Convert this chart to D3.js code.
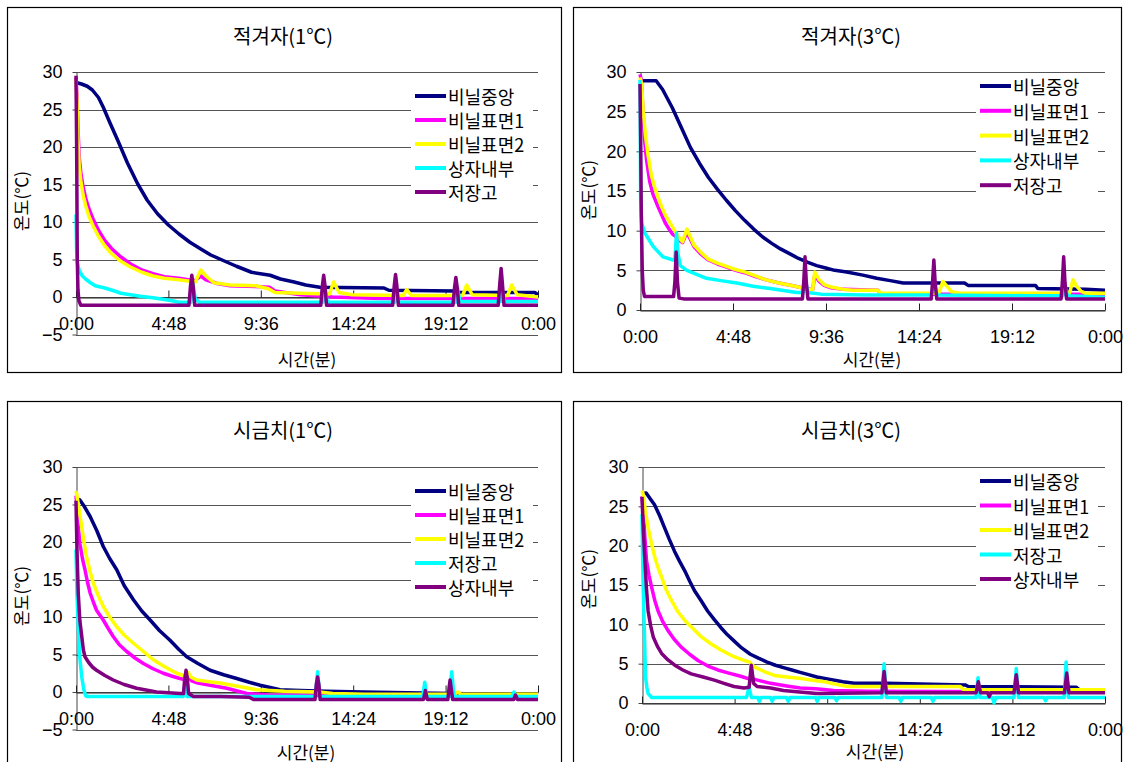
<!DOCTYPE html>
<html>
<head>
<meta charset="utf-8">
<script src="https://cdn.jsdelivr.net/npm/d3@7"></script>
<style>
body { margin: 0; background: #fff; }
</style>
</head>
<body>
<script>
// x axis is minutes over one day
var timeTicks = [0, 288, 576, 864, 1152, 1440];
var timeLabels = ["0:00", "4:48", "9:36", "14:24", "19:12", "0:00"];
var namesMustard = ["비닐중앙", "비닐표면1", "비닐표면2", "상자내부", "저장고"];
var namesSpinach = ["비닐중앙", "비닐표면1", "비닐표면2", "저장고", "상자내부"];
var colors = ["#000080", "#ff00ff", "#ffff00", "#00ffff", "#800080"];

// 적겨자(1℃)  [minute, ℃]
var m1Center = [[0,28.6],[17,28.4],[35,28.1],[51,27.6],[70,26.6],[85,25.3],[105,23.3],[130,20.9],[160,17.9],[192,15.1],[222,12.9],[254,11.1],[288,9.6],[321,8.4],[355,7.3],[389,6.4],[420,5.6],[457,4.9],[500,4.1],[547,3.3],[605,2.9],[637,2.4],[680,2.0],[716,1.6],[760,1.3],[960,1.2],[975,0.9],[1180,0.8],[1195,0.6],[1430,0.6],[1440,0.3]];
var m1Surf1 = [[0,29.2],[3,27],[6,22.7],[10,18.6],[15,16.6],[22,14.7],[30,13.2],[40,11.8],[53,10.4],[70,8.9],[90,7.5],[110,6.5],[138,5.4],[170,4.4],[205,3.6],[240,3.1],[275,2.7],[320,2.5],[350,2.3],[372,2.2],[389,2.8],[405,2.3],[440,1.8],[480,1.5],[560,1.4],[603,1.3],[620,0.8],[700,0.3],[800,0.0],[950,-0.2],[1440,-0.2]];
var m1Surf2 = [[0,29],[3,26],[6,21],[10,17.5],[15,15.5],[22,13.6],[30,12.2],[40,10.8],[53,9.5],[70,8.1],[90,6.8],[110,5.8],[138,4.8],[170,4.0],[205,3.3],[240,2.8],[275,2.5],[320,2.3],[355,2.1],[372,2.0],[389,3.6],[405,2.8],[430,1.9],[480,1.6],[560,1.5],[600,1.1],[620,0.6],[700,0.5],[790,0.4],[803,2.0],[820,0.6],[860,0.3],[1020,0.2],[1031,1.0],[1045,0.2],[1205,0.2],[1218,1.6],[1235,0.3],[1345,0.2],[1358,1.6],[1375,0.3],[1440,0.0]];
var m1Box = [[0,11],[2,6],[4,4.6],[10,3.5],[20,2.8],[30,2.4],[45,1.9],[60,1.5],[90,1.2],[120,0.8],[140,0.5],[170,0.3],[200,0.1],[240,-0.1],[270,-0.3],[300,-0.5],[320,-0.7],[358,-0.7],[364,1.8],[372,-0.3],[385,-0.7],[770,-0.7],[776,0.9],[784,-0.7],[994,-0.7],[999,0.6],[1006,-0.7],[1184,-0.7],[1189,1.2],[1197,-0.6],[1324,-0.6],[1329,0.8],[1336,-0.6],[1440,-0.6]];
var m1Store = [[0,29.5],[2,20],[4,5],[6,1],[9,-0.5],[15,-1.1],[352,-1.1],[357,1.5],[361,2.9],[365,1.5],[370,-1.1],[763,-1.1],[768,1.5],[772,2.9],[776,1.5],[781,-1.1],[987,-1.1],[992,1.5],[996,3.0],[1000,1.5],[1005,-1.1],[1175,-1.1],[1180,1.3],[1184,2.6],[1188,1.3],[1193,-1.1],[1316,-1.1],[1321,1.8],[1325,3.8],[1329,1.8],[1334,-1.1],[1440,-1.1]];

// 적겨자(3℃)
var m3Center = [[0,28.9],[20,28.9],[50,28.9],[70,27.8],[100,25.5],[128,23.0],[156,20.5],[184,18.5],[212,16.7],[240,15.2],[268,13.8],[296,12.5],[324,11.3],[352,10.2],[380,9.2],[408,8.4],[435,7.7],[463,7.1],[491,6.5],[520,6.0],[547,5.6],[575,5.3],[603,5.0],[640,4.8],[690,4.4],[733,4.0],[775,3.7],[815,3.4],[1005,3.4],[1016,3.1],[1225,3.1],[1232,2.7],[1380,2.6],[1440,2.5]];
var m3Surf1 = [[0,29.7],[4,29],[8,26],[14,21.5],[20,19],[30,16.2],[40,14.6],[56,13.0],[67,12.0],[78,11.0],[90,10.2],[100,9.6],[112,9.2],[125,8.7],[132,8.5],[145,9.8],[155,9.0],[167,8.0],[190,7.0],[212,6.3],[240,5.8],[268,5.4],[296,5.0],[324,4.7],[358,4.2],[391,3.8],[430,3.4],[469,3.1],[500,2.8],[535,2.6],[541,4.4],[555,3.6],[570,3.1],[592,2.8],[630,2.6],[737,2.5],[745,2.0],[1440,2.0]];
var m3Surf2 = [[0,29.3],[5,28.5],[10,25],[17,22],[25,19.5],[35,17],[45,15.5],[56,14.2],[67,13],[78,12],[90,11.2],[100,10.5],[112,9.7],[125,8.9],[132,8.6],[145,10.2],[155,9.3],[167,8.2],[190,7.2],[212,6.4],[240,5.9],[268,5.5],[296,5.1],[324,4.8],[358,4.3],[391,3.8],[430,3.4],[469,3.1],[500,2.8],[525,2.6],[535,2.6],[541,4.8],[555,3.8],[570,3.2],[592,2.9],[630,2.6],[659,2.5],[737,2.5],[745,2.1],[925,2.1],[938,3.6],[950,3.0],[965,2.3],[990,2.1],[1330,2.1],[1341,3.8],[1352,3.0],[1365,2.4],[1380,2.1],[1440,2.1]];
var m3Box = [[0,29],[1,22],[2,14],[5,11],[15,9.7],[41,8.0],[71,6.7],[103,6.3],[108,6.4],[113,9.7],[118,7.0],[125,5.6],[145,5.0],[175,4.5],[206,4.0],[250,3.7],[300,3.4],[350,3.0],[403,2.7],[485,2.2],[505,2.2],[512,3.8],[520,2.2],[560,2.0],[700,1.9],[902,1.9],[910,3.5],[920,1.9],[1200,1.8],[1310,1.8],[1316,3.0],[1324,1.8],[1440,1.6]];
var m3Store = [[0,28.5],[2,22],[4,12],[7,5],[10,2.5],[14,1.7],[104,1.7],[108,3.5],[112,7.3],[116,3.5],[121,1.5],[135,1.4],[503,1.4],[507,3.5],[511,6.7],[515,3.5],[520,1.4],[902,1.4],[906,3.5],[910,6.3],[914,3.5],[919,1.4],[1304,1.4],[1308,3.5],[1312,6.7],[1316,3.5],[1321,1.4],[1440,1.4]];

// 시금치(1℃)
var s1Center = [[0,25.8],[12,25.6],[25,24.8],[44,23.4],[65,21.5],[85,19.4],[105,17.8],[127,16.3],[150,14.2],[179,12.3],[205,10.8],[231,9.6],[260,8.2],[293,6.9],[320,5.7],[345,4.7],[380,3.8],[418,2.9],[460,2.3],[501,1.8],[540,1.3],[574,0.9],[605,0.6],[636,0.3],[700,0.2],[780,0.1],[895,0.0],[1440,-0.4]];
var s1Surf1 = [[0,26.2],[2,25.2],[6,22.5],[12,19.8],[20,17.8],[28,16.3],[36,14.6],[44,13.2],[54,12.0],[64,10.9],[85,9.6],[100,8.5],[116,7.4],[135,6.3],[158,5.4],[185,4.5],[210,3.8],[240,3.1],[272,2.5],[300,2.1],[324,1.8],[345,1.6],[352,2.0],[360,1.5],[380,1.2],[418,0.9],[470,0.5],[532,-0.2],[600,-0.4],[800,-0.5],[1440,-0.6]];
var s1Surf2 = [[0,26.8],[2,26.5],[10,24.2],[18,22],[25,20],[33,18.0],[43,16.2],[54,14.5],[70,12.8],[85,11.4],[105,10.0],[127,8.7],[150,7.6],[179,6.5],[210,5.4],[241,4.3],[275,3.4],[314,2.5],[340,2.1],[350,2.6],[358,2.0],[376,1.6],[410,1.4],[449,1.2],[500,0.8],[563,0.3],[650,0.1],[760,0.0],[800,-0.2],[900,-0.3],[1180,-0.3],[1190,0.0],[1200,-0.3],[1440,-0.3]];
var s1Store = [[0,19],[3,13],[7,8.7],[12,4.5],[18,2.0],[24,0.4],[30,-0.5],[36,-0.6],[334,-0.6],[340,1.2],[346,-0.6],[746,-0.6],[753,2.7],[760,-0.6],[1081,-0.6],[1087,1.3],[1093,-0.6],[1164,-0.6],[1171,2.7],[1178,-0.6],[1359,-0.6],[1365,0.0],[1371,-0.6],[1440,-0.6]];
var s1Box = [[0,25.5],[3,19],[7,13.2],[12,9.5],[18,7.4],[23,5.6],[28,4.7],[40,3.9],[52,3.3],[64,2.9],[90,2.2],[116,1.6],[150,1.0],[189,0.5],[251,0.0],[324,-0.2],[335,-0.2],[339,1.8],[343,2.9],[347,1.8],[351,-0.2],[366,-0.6],[450,-0.6],[540,-0.7],[553,-1.0],[745,-1.0],[749,1.0],[753,2.0],[757,1.0],[761,-1.0],[1083,-1.0],[1089,0.2],[1095,-1.0],[1159,-1.0],[1163,0.6],[1166,1.6],[1169,0.6],[1174,-1.0],[1364,-1.0],[1370,-0.4],[1376,-1.0],[1440,-1.0]];

// 시금치(3℃)
var s3Center = [[0,26.6],[13,26.7],[25,26.0],[39,25.2],[55,23.8],[70,22.3],[85,20.8],[101,19.3],[117,18.0],[133,16.8],[148,15.5],[163,14.3],[184,13.0],[204,11.7],[225,10.6],[245,9.6],[265,8.7],[286,7.9],[310,7.0],[337,6.2],[362,5.7],[389,5.2],[415,4.8],[440,4.5],[466,4.2],[492,3.9],[518,3.6],[544,3.3],[585,3.0],[625,2.7],[660,2.5],[760,2.5],[1005,2.3],[1015,2.1],[1350,2.0],[1360,1.7],[1440,1.7]];
var s3Surf1 = [[0,26.3],[4,24.4],[9,21],[14,18.1],[22,16.2],[30,14.7],[40,13.0],[50,11.7],[65,10.3],[81,9.2],[100,8.1],[122,7.1],[148,6.2],[174,5.4],[205,4.7],[236,4.2],[270,3.8],[307,3.4],[330,3.1],[340,3.3],[350,3.0],[400,2.5],[445,2.2],[492,1.9],[540,1.8],[596,1.6],[700,1.5],[1440,1.4]];
var s3Surf2 = [[0,27],[4,26.5],[10,24.5],[19,22.3],[30,20.2],[40,18.5],[50,17.2],[61,16.0],[75,14.4],[92,13.0],[110,11.7],[133,10.5],[160,9.4],[185,8.4],[215,7.5],[247,6.7],[280,6.0],[319,5.4],[335,5.2],[340,4.9],[350,4.6],[380,4.0],[412,3.5],[450,3.3],[496,3.1],[530,2.9],[568,2.7],[600,2.4],[640,2.1],[723,2.1],[990,2.1],[1000,1.7],[1440,1.7]];
var s3Store = [[0,24],[3,16],[7,9.6],[11,3.3],[15,2.0],[19,1.2],[30,0.7],[325,0.7],[333,2.0],[340,0.7],[360,0.7],[365,0.2],[370,0.7],[400,0.7],[405,0.2],[410,0.7],[450,0.7],[455,0.2],[460,0.7],[540,0.7],[545,0.2],[550,0.7],[600,0.7],[605,0.3],[610,0.7],[746,0.7],[753,5.0],[760,0.7],[800,0.7],[805,0.2],[810,0.7],[900,0.7],[905,0.2],[910,0.7],[1039,0.7],[1045,3.2],[1051,0.7],[1090,0.7],[1095,0.0],[1100,0.7],[1157,0.7],[1164,4.4],[1171,0.7],[1250,0.7],[1255,0.3],[1260,0.7],[1313,0.7],[1319,5.2],[1326,0.7],[1440,0.7]];
var s3Box = [[0,26.2],[4,22],[9,18.1],[14,14.5],[19,11.7],[27,9.8],[35,8.4],[48,7.2],[61,6.3],[80,5.5],[102,4.8],[127,4.2],[153,3.7],[190,3.3],[225,2.9],[255,2.5],[286,2.1],[317,1.9],[333,2.0],[340,4.8],[347,2.5],[358,2.1],[400,1.9],[440,1.6],[490,1.4],[544,1.2],[746,1.3],[753,4.0],[760,1.3],[1039,1.3],[1046,2.7],[1053,1.3],[1075,1.3],[1080,0.8],[1085,1.3],[1157,1.3],[1164,3.6],[1171,1.3],[1314,1.3],[1321,3.8],[1328,1.3],[1440,1.3]];

// layout of the four panels
var panels = [
  {title: "적겨자(1℃)", names: namesMustard, series: [m1Center, m1Surf1, m1Surf2, m1Box, m1Store],
   box: [7, 7, 554, 365], l: 76, r: 538, top: 72, bottom: 334.5, ymin: -5,
   titleX: 283, titleY: 35, yLabX: 20, yLabY: 201, xLabX: 307, xLabY: 358, legX: 415, legY: 96, legStep: 24},
  {title: "적겨자(3℃)", names: namesMustard, series: [m3Center, m3Surf1, m3Surf2, m3Box, m3Store],
   box: [573, 7, 548, 365], l: 640, r: 1105, top: 72, bottom: 310, ymin: 0,
   titleX: 851, titleY: 35, yLabX: 587, yLabY: 190, xLabX: 872, xLabY: 358, legX: 980, legY: 86, legStep: 24.8},
  {title: "시금치(1℃)", names: namesSpinach, series: [s1Center, s1Surf1, s1Surf2, s1Store, s1Box],
   box: [7, 401, 554, 380], l: 76, r: 538, top: 467, bottom: 729.5, ymin: -5,
   titleX: 283, titleY: 429, yLabX: 20, yLabY: 596, xLabX: 306, xLabY: 751, legX: 415, legY: 491, legStep: 24},
  {title: "시금치(3℃)", names: namesSpinach, series: [s3Center, s3Surf1, s3Surf2, s3Store, s3Box],
   box: [573, 401, 548, 380], l: 642, r: 1105, top: 467, bottom: 703, ymin: 0,
   titleX: 851, titleY: 429, yLabX: 587, yLabY: 579, xLabX: 875, xLabY: 750, legX: 980, legY: 481, legStep: 24.5}
];

var korFont = "'Noto Sans CJK KR', 'Noto Sans', sans-serif";
var numFont = "'Liberation Sans', Arial, sans-serif";

var svg = d3.select("body").append("svg")
    .attr("width", 1129)
    .attr("height", 762)
    .style("display", "block");

svg.append("rect").attr("width", 1129).attr("height", 762).attr("fill", "#fff");

var drawPanel = function(p) {
  var g = svg.append("g");

  g.append("rect")
    .attr("x", p.box[0] + 0.5).attr("y", p.box[1] + 0.5)
    .attr("width", p.box[2]).attr("height", p.box[3])
    .attr("fill", "#fff").attr("stroke", "#000").attr("stroke-width", 1.2);

  g.append("text")
    .attr("x", p.titleX).attr("y", p.titleY)
    .attr("text-anchor", "middle").attr("dominant-baseline", "central")
    .attr("font-family", korFont).attr("font-size", 20)
    .text(p.title);

  var x = d3.scaleLinear().domain([0, 1440]).range([p.l, p.r]);
  var y = d3.scaleLinear().domain([p.ymin, 30]).range([p.bottom, p.top]);
  var yTicks = d3.range(p.ymin, 31, 5);

  // horizontal grid
  g.append("g").selectAll("line")
    .data(yTicks)
    .join("line")
    .attr("x1", p.l).attr("x2", p.r)
    .attr("y1", function(d){ return Math.round(y(d)) + 0.5; })
    .attr("y2", function(d){ return Math.round(y(d)) + 0.5; })
    .attr("stroke", "#555").attr("stroke-width", 1);

  // y axis
  var yAxis = g.append("g")
    .attr("transform", "translate(" + (p.l + 0.5) + ",0)")
    .call(d3.axisLeft(y).tickValues(yTicks).tickSize(4).tickSizeOuter(0).tickPadding(10)
      .tickFormat(function(d){ return d < 0 ? "\u2212" + (-d) : d; }));
  yAxis.selectAll("path, line").attr("stroke", "#444");
  yAxis.selectAll("text").attr("font-family", numFont).attr("font-size", 18).attr("fill", "#000");

  // x axis sits on 0℃
  var xAxis = g.append("g")
    .attr("transform", "translate(0," + (Math.round(y(0)) + 0.5) + ")")
    .call(d3.axisBottom(x).tickValues(timeTicks).tickSize(-7).tickSizeOuter(0).tickPadding(20)
      .tickFormat(function(d, i){ return timeLabels[i]; }));
  xAxis.selectAll("path, line").attr("stroke", "#222");
  xAxis.selectAll("text").attr("font-family", numFont).attr("font-size", 18).attr("fill", "#000");

  var line = d3.line()
    .x(function(d){ return x(d[0]); })
    .y(function(d){ return y(d[1]); });

  g.append("g").selectAll("path")
    .data(p.series)
    .join("path")
    .attr("d", line)
    .attr("fill", "none")
    .attr("stroke", function(d, i){ return colors[i]; })
    .attr("stroke-width", 3.5)
    .attr("stroke-linejoin", "round");

  // legend
  var leg = g.append("g").attr("transform", "translate(" + p.legX + "," + p.legY + ")");
  leg.append("rect")
    .attr("x", -4).attr("y", -13)
    .attr("width", 122).attr("height", p.legStep * 4 + 26)
    .attr("fill", "#fff");
  var item = leg.selectAll("g.item")
    .data(p.names)
    .join("g")
    .attr("class", "item")
    .attr("transform", function(d, i){ return "translate(0," + (i * p.legStep) + ")"; });
  item.append("line")
    .attr("x1", 0).attr("x2", 31)
    .attr("stroke", function(d, i){ return colors[i]; })
    .attr("stroke-width", 4);
  item.append("text")
    .attr("x", 33)
    .attr("dominant-baseline", "central")
    .attr("font-family", korFont).attr("font-size", 18)
    .text(function(d){ return d; });

  // axis titles
  g.append("text")
    .attr("transform", "translate(" + p.yLabX + "," + p.yLabY + ") rotate(-90)")
    .attr("text-anchor", "middle").attr("dominant-baseline", "central")
    .attr("font-family", korFont).attr("font-size", 17)
    .text("온도(℃)");
  g.append("text")
    .attr("x", p.xLabX).attr("y", p.xLabY)
    .attr("text-anchor", "middle").attr("dominant-baseline", "central")
    .attr("font-family", korFont).attr("font-size", 17)
    .text("시간(분)");
};

panels.forEach(drawPanel);
</script>
</body>
</html>
